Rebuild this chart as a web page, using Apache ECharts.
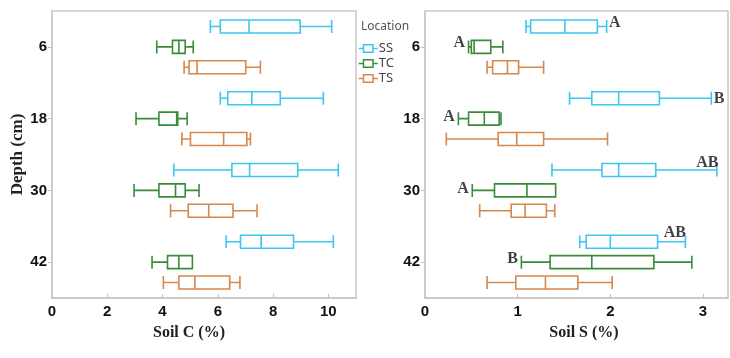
<!DOCTYPE html>
<html>
<head>
<meta charset="utf-8">
<script src="https://cdn.jsdelivr.net/npm/echarts@6/dist/echarts.min.js"></script>
<style>html,body{margin:0;padding:0;background:#fff}#c{width:730px;height:358px}</style>
</head>
<body>
<div id="c"></div>
<script>
// ---- data ----
const depths = ['6', '18', '30', '42'];
const locations = ['SS', 'TC', 'TS'];
// [min, Q1, median, Q3, max]
const carbonSS = [[5.73, 6.09, 7.13, 8.98, 10.12], [6.09, 6.36, 7.23, 8.26, 9.82], [4.41, 6.51, 7.15, 8.89, 10.36], [6.30, 6.82, 7.57, 8.74, 10.18]];
const carbonTC = [[3.79, 4.36, 4.59, 4.82, 5.11], [3.04, 3.87, 4.51, 4.55, 4.89], [2.97, 3.87, 4.47, 4.82, 5.32], [3.62, 4.18, 4.59, 5.08, 5.08]];
const carbonTS = [[4.78, 4.96, 5.25, 7.01, 7.54], [4.70, 5.01, 6.21, 7.05, 7.18], [4.29, 4.93, 5.67, 6.55, 7.42], [4.03, 4.59, 5.17, 6.43, 6.80]];
const sulfurSS = [[1.09, 1.14, 1.51, 1.86, 1.96], [1.56, 1.80, 2.09, 2.53, 3.09], [1.37, 1.91, 2.09, 2.49, 3.15], [1.67, 1.74, 2.00, 2.51, 2.81]];
const sulfurTC = [[0.47, 0.50, 0.53, 0.71, 0.84], [0.36, 0.47, 0.64, 0.80, 0.82], [0.51, 0.75, 1.10, 1.41, 1.41], [1.04, 1.35, 1.80, 2.47, 2.88]];
const sulfurTS = [[0.67, 0.73, 0.89, 1.01, 1.28], [0.23, 0.79, 0.99, 1.28, 1.97], [0.59, 0.93, 1.08, 1.31, 1.40], [0.67, 0.98, 1.30, 1.65, 2.02]];
const lettersSS = ['A', 'B', 'AB', 'AB'];
const lettersTC = ['A', 'A', 'A', 'B'];
const carbonTicks = [0, 2, 4, 6, 8, 10];
const sulfurTicks = [0, 1, 2, 3];

// ---- styles / layout ----
const colors = { SS: '#3ec5f0', TC: '#3a8c3a', TS: '#d6874c' };
const tickFont = '"Liberation Sans Narrow", "Liberation Sans", Arial, sans-serif';
const serifFont = '"Liberation Serif", "Times New Roman", serif';
const ssLabelLayout = [
  { position: 'right', distance: 2, offset: [0, -24] },
  { position: 'right', distance: 2, offset: [0, -20] },
  { position: 'left', distance: 0, offset: [2, -28] },
  { position: 'left', distance: 0, offset: [1, -29] }
];
const tcLabelLayout = [
  { position: 'left', distance: 3, offset: [0, -4] },
  { position: 'left', distance: 3, offset: [0, -2] },
  { position: 'left', distance: 3, offset: [0, -2] },
  { position: 'left', distance: 3, offset: [0, -3] }
];

const chart = echarts.init(document.getElementById('c'), null, { renderer: 'canvas' });

function xAxisDef(gridIndex, max, interval, name, namePad) {
  return {
    type: 'value', gridIndex, min: 0, max, interval,
    name, nameLocation: 'middle', nameGap: 27,
    nameTextStyle: { fontFamily: serifFont, fontWeight: 'bold', fontSize: 16, color: '#222', padding: namePad },
    axisLine: { show: true, lineStyle: { color: '#c8c8c8', width: 1.5 } },
    axisTick: { show: true, inside: true, length: 4, lineStyle: { color: '#c0c0c0' } },
    axisLabel: { showMaxLabel: false, margin: 6, fontFamily: tickFont, fontWeight: 'bold', fontSize: 15, color: '#111' },
    splitLine: { show: false }
  };
}
function yAxisDef(gridIndex, name) {
  return {
    type: 'category', gridIndex, data: depths, inverse: true,
    name, nameLocation: 'middle', nameGap: 25, nameRotate: 90,
    nameTextStyle: { fontFamily: serifFont, fontWeight: 'bold', fontSize: 17, color: '#222' },
    axisLine: { show: true, lineStyle: { color: '#c8c8c8', width: 1.5 } },
    axisTick: { show: true, alignWithLabel: true, length: 4, lineStyle: { color: '#c0c0c0' } },
    axisLabel: { margin: 5, fontFamily: tickFont, fontWeight: 'bold', fontSize: 15, color: '#111' },
    splitLine: { show: false }
  };
}
function box(name, data, idx) {
  return {
    type: 'boxplot', name, xAxisIndex: idx, yAxisIndex: idx, data,
    boxWidth: [12, 13],
    itemStyle: { color: 'transparent', borderColor: colors[name], borderWidth: 1.6 },
    emphasis: { disabled: true }
  };
}
function letters(vals, labels, layout) {
  return {
    type: 'scatter', xAxisIndex: 1, yAxisIndex: 1, symbolSize: 1, silent: true,
    itemStyle: { color: 'transparent' }, z: 5,
    data: vals.map((v, i) => ({
      value: [v, i],
      label: Object.assign({ show: true, formatter: labels[i], fontFamily: serifFont, fontWeight: 'bold', fontSize: 16, color: '#111' }, layout[i])
    }))
  };
}

chart.setOption({
  animation: false,
  title: { text: 'Location', left: 361, top: 21, padding: 0, textStyle: { fontFamily: '"Noto Sans", "Open Sans", sans-serif', fontSize: 12, fontWeight: 'normal', color: '#555' } },
  legend: {
    orient: 'vertical', left: 358, top: 42, itemGap: 2, itemWidth: 19, itemHeight: 9,
    padding: 0,
    textStyle: { fontFamily: '"Noto Sans", "Open Sans", sans-serif', fontSize: 13, color: '#444', lineHeight: 13, padding: [0, 0, 0, -4] },
    data: locations.map(n => ({
      name: n,
      icon: 'path://M0,4H5M5,0H15V8H5ZM15,4H20',
      itemStyle: { color: 'transparent', borderColor: colors[n], borderWidth: 1.5 }
    }))
  },
  grid: [
    { left: 52, top: 11, width: 304, height: 287, show: true, borderColor: '#c8c8c8', borderWidth: 1.5, backgroundColor: 'transparent' },
    { left: 425, top: 11, width: 303, height: 287, show: true, borderColor: '#c8c8c8', borderWidth: 1.5, backgroundColor: 'transparent' }
  ],
  xAxis: [
    xAxisDef(0, 11, carbonTicks[1] - carbonTicks[0], 'Soil C (%)', [0, 30, 0, 0]),
    xAxisDef(1, 3.27, sulfurTicks[1] - sulfurTicks[0], 'Soil S (%)', [0, 0, 0, 15])
  ],
  yAxis: [yAxisDef(0, 'Depth (cm)'), yAxisDef(1, '')],
  series: [
    box('SS', carbonSS, 0), box('TC', carbonTC, 0), box('TS', carbonTS, 0),
    box('SS', sulfurSS, 1), box('TC', sulfurTC, 1), box('TS', sulfurTS, 1),
    letters(sulfurSS.map(d => d[4]), lettersSS, ssLabelLayout),
    letters(sulfurTC.map(d => d[0]), lettersTC, tcLabelLayout)
  ]
});
</script>
</body>
</html>
